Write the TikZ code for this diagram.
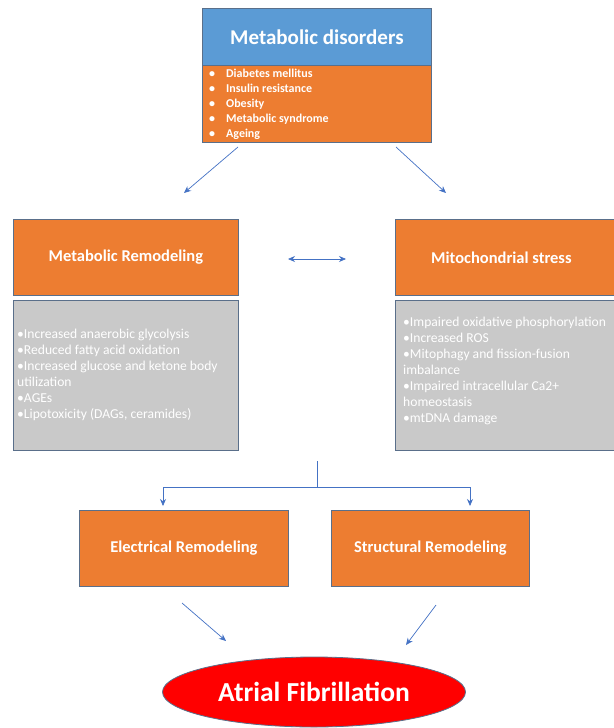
\documentclass[tikz,border=0pt]{standalone}
\usepackage{fontspec}
\setmainfont{Carlito}
\usetikzlibrary{arrows.meta,shapes.geometric}
\definecolor{myblue}{HTML}{5B9BD5}
\definecolor{myorange}{HTML}{ED7D31}
\definecolor{mygray}{HTML}{C9C9C9}
\definecolor{edgec}{HTML}{5A6F8A}
\definecolor{arrc}{HTML}{4472C4}
\tikzset{
  obox/.style={draw=edgec, line width=0.8pt, fill=myorange, minimum height=76pt, text=white, font=\bfseries\fontsize{16.5}{19}\selectfont, inner sep=0pt},
  gbox/.style={draw=edgec, line width=0.8pt, fill=mygray, inner sep=0pt},
  gtext/.style={text=white, align=left, font=\fontsize{13.6}{16}\selectfont, inner sep=0pt, anchor=north west},
  conn/.style={draw=arrc, line width=0.7pt, -{Stealth[length=7pt,width=6pt]}},
}
\begin{document}
\begin{tikzpicture}[x=1pt,y=-1pt]
\useasboundingbox (0,0) rectangle (613,728);
% top box
\node[draw=edgec, line width=0.8pt, fill=myblue, minimum width=229pt, minimum height=57pt, anchor=north west, inner sep=0pt, text=white, font=\bfseries\fontsize{21}{24}\selectfont] (md) at (202,8) {Metabolic disorders};
\node[draw=edgec, line width=0.8pt, fill=myorange, minimum width=229pt, minimum height=77pt, anchor=north west, inner sep=0pt] (mdl) at (202,65) {};
\node[anchor=north west, inner sep=0pt, text=white, align=left, font=\bfseries\fontsize{12}{15}\selectfont] (mdt) at (209,69) {%
\textbullet\hspace{11pt}Diabetes mellitus\\
\textbullet\hspace{11pt}Insulin resistance\\
\textbullet\hspace{11pt}Obesity\\
\textbullet\hspace{11pt}Metabolic syndrome\\
\textbullet\hspace{11pt}Ageing};
% middle row
\node[obox, minimum width=225pt, anchor=north west] (mr) at (13,219) {Metabolic Remodeling};
\node[gbox, minimum width=225pt, minimum height=150pt, anchor=north west] (mrg) at (13,300) {};
\node[gtext] (mrt) at (17,329) {%
\textbullet Increased anaerobic glycolysis\\
\textbullet Reduced fatty acid oxidation\\
\textbullet Increased glucose and ketone body\\
utilization\\
\textbullet AGEs\\
\textbullet Lipotoxicity (DAGs, ceramides)};
\node[obox, minimum width=222pt, anchor=north west] (ms) at (395,219) {\hspace{-10pt}Mitochondrial stress};
\node[gbox, minimum width=222pt, minimum height=150pt, anchor=north west] (msg) at (395,300) {};
\node[gtext] (mst) at (403,317) {%
\textbullet Impaired oxidative phosphorylation\\
\textbullet Increased ROS\\
\textbullet Mitophagy and fission-fusion\\
imbalance\\
\textbullet Impaired intracellular Ca2+\\
homeostasis\\
\textbullet mtDNA damage};
% arrows from top
\coordinate (a1s) at (238,147); \coordinate (a1e) at (184,193);
\coordinate (a2s) at (396,147); \coordinate (a2e) at (446,193);
\draw[conn] (a1s) -- (a1e);
\draw[conn] (a2s) -- (a2e);
\coordinate (dl) at (288,259); \coordinate (dr) at (346,259);
\draw[draw=arrc, line width=0.7pt, {Stealth[length=7pt,width=6pt]}-{Stealth[length=7pt,width=6pt]}] (dl) -- (dr);
% bottom
\node[obox, minimum width=209pt, anchor=north west] (er) at (79,510) {Electrical Remodeling};
\node[obox, minimum width=198pt, anchor=north west] (sr) at (331,510) {Structural Remodeling};
\coordinate (vt) at (317,461); \coordinate (vb) at (317,487);
\draw[draw=arrc, line width=0.7pt] (vt) -- (vb);
\draw[conn] (vb) -| (163,506);
\draw[conn] (vb) -| (470,506);
\node[ellipse, draw=edgec, line width=0.8pt, fill=red, minimum width=303pt, minimum height=70pt, inner sep=0pt, text=white, font=\bfseries\fontsize{27.5}{30}\selectfont] (af) at (314,692) {Atrial Fibrillation};
\coordinate (b1s) at (182,603); \coordinate (b1e) at (226,641);
\coordinate (b2s) at (436,605); \coordinate (b2e) at (406,645);
\draw[conn] (b1s) -- (b1e);
\draw[conn] (b2s) -- (b2e);
\end{tikzpicture}
\end{document}
